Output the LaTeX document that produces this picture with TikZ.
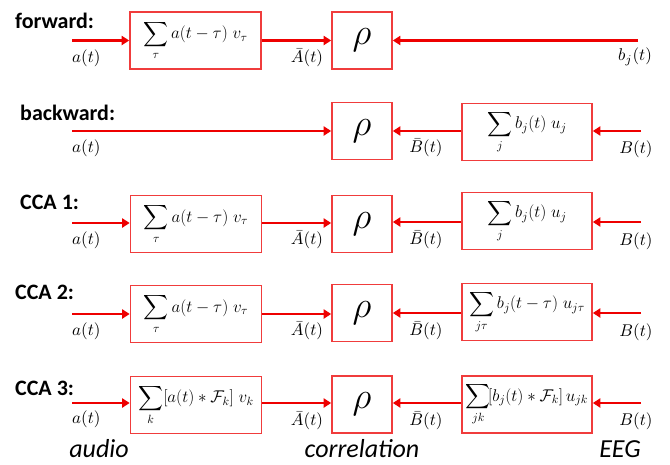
\RequirePackage{fix-cm}
\documentclass[tikz,border=0pt]{standalone}
\usepackage{exscale}
\usepackage{fontspec}
\setmainfont{Carlito}
\usetikzlibrary{arrows.meta}
\definecolor{arrred}{RGB}{238,0,0}
\definecolor{boxred}{RGB}{240,60,60}
\makeatletter
\newcommand\mfont[1]{\fontsize{#1}{#1}\selectfont\global\let\glb@currsize\relax\let\glb@currsize\relax}
\makeatother
\newcommand\lab[1]{\scalebox{1.7}{$#1$}}
\begin{document}
\begin{tikzpicture}[x=1pt,y=-1pt,
  box/.style={draw=boxred, line width=1.6pt, minimum height=57pt, inner sep=0pt,
    font=\mfont{17}},
  wide/.style={box, minimum width=131pt},
  rhobox/.style={box, minimum width=60pt, font=\mfont{37}},
  sig/.style={draw=arrred, line width=2.6pt, -{Triangle[length=7.5pt,width=9pt]}},
  rowlabel/.style={font=\fontsize{22}{26}\selectfont\bfseries, anchor=base west, inner sep=0pt},
  mlabel/.style={font=\normalsize, inner sep=0pt},
  foot/.style={font=\fontsize{26}{30}\selectfont\itshape, anchor=base, inner sep=0pt}]
\useasboundingbox (0,0) rectangle (670,464);

% ---------- row 1: forward ----------
\node[rowlabel] (l1) at (15,28) {forward:};
\node[wide] (f1) at (195.5,40.5) {$\displaystyle\sum_{\tau} a(t-\tau)\;v_{\tau}$};
\node[rhobox] (r1) at (362,40.5) {$\rho$};
\coordinate (a1) at (72,40.5);
\coordinate (b1) at (638,40.5);
\draw[sig] (a1) -- (f1.west);
\draw[sig] (f1.east) -- (r1.west);
\draw[sig] (b1) -- (r1.east);
\node[mlabel, anchor=west] (ta1) at (72,58) {\lab{a(t)}};
\node[mlabel] (tA1) at (307,58) {\lab{\bar{A}(t)}};
\node[mlabel] (tb1) at (635,57) {\lab{b_j(t)}};

% ---------- row 2: backward ----------
\node[rowlabel] (l2) at (20,120) {backward:};
\node[rhobox] (r2) at (362,131) {$\rho$};
\node[wide, minimum width=130pt] (g2) at (527,132) {$\displaystyle\sum_{j} b_j(t)\;u_j$};
\coordinate (a2) at (72,131);
\coordinate (b2) at (641,131);
\draw[sig] (a2) -- (r2.west);
\draw[sig] (g2.west |- b2) -- (r2.east);
\draw[sig] (b2) -- (g2.east |- b2);
\node[mlabel, anchor=west] (ta2) at (72,148) {\lab{a(t)}};
\node[mlabel] (tB2) at (426,148) {\lab{\bar{B}(t)}};
\node[mlabel] (tb2) at (636,149) {\lab{B(t)}};

% ---------- row 3: CCA 1 ----------
\node[rowlabel] (l3) at (20,209) {CCA 1:};
\node[wide] (f3) at (196,224) {$\displaystyle\sum_{\tau} a(t-\tau)\;v_{\tau}$};
\node[rhobox] (r3) at (362,224) {$\rho$};
\node[wide, minimum width=130pt] (g3) at (527,221) {$\displaystyle\sum_{j} b_j(t)\;u_j$};
\coordinate (a3) at (72,223);
\coordinate (b3) at (641,222);
\draw[sig] (a3) -- (f3.west |- a3);
\draw[sig] (f3.east |- a3) -- (r3.west |- a3);
\draw[sig] (g3.west |- b3) -- (r3.east |- b3);
\draw[sig] (b3) -- (g3.east |- b3);
\node[mlabel, anchor=west] (ta3) at (72,240) {\lab{a(t)}};
\node[mlabel] (tA3) at (307,240) {\lab{\bar{A}(t)}};
\node[mlabel] (tB3) at (426,240) {\lab{\bar{B}(t)}};
\node[mlabel] (tb3) at (636,241) {\lab{B(t)}};

% ---------- row 4: CCA 2 ----------
\node[rowlabel] (l4) at (15,299) {CCA 2:};
\node[wide] (f4) at (196,314) {$\displaystyle\sum_{\tau} a(t-\tau)\;v_{\tau}$};
\node[rhobox] (r4) at (362,313) {$\rho$};
\node[wide, minimum width=130pt] (g4) at (527,312) {$\displaystyle\sum_{j\tau} b_j(t-\tau)\;u_{j\tau}$};
\coordinate (a4) at (72,314);
\coordinate (b4) at (641,313);
\draw[sig] (a4) -- (f4.west |- a4);
\draw[sig] (f4.east |- a4) -- (r4.west |- a4);
\draw[sig] (g4.west |- b4) -- (r4.east |- b4);
\draw[sig] (b4) -- (g4.east |- b4);
\node[mlabel, anchor=west] (ta4) at (72,331) {\lab{a(t)}};
\node[mlabel] (tA4) at (307,331) {\lab{\bar{A}(t)}};
\node[mlabel] (tB4) at (426,331) {\lab{\bar{B}(t)}};
\node[mlabel] (tb4) at (636,332) {\lab{B(t)}};

% ---------- row 5: CCA 3 ----------
\node[rowlabel] (l5) at (15,395) {CCA 3:};
\node[wide] (f5) at (196,405) {$\displaystyle\sum_{k} [a(t)\ast\mathcal{F}_k]\;v_k$};
\node[rhobox] (r5) at (362,404.5) {$\rho$};
\node[wide, minimum width=130pt] (g5) at (527,404.5) {$\displaystyle\sum_{jk}\![b_j(t)\ast\mathcal{F}_k]\,u_{jk}$};
\coordinate (a5) at (72,403);
\coordinate (b5) at (641,403);
\draw[sig] (a5) -- (f5.west |- a5);
\draw[sig] (f5.east |- a5) -- (r5.west |- a5);
\draw[sig] (g5.west |- b5) -- (r5.east |- b5);
\draw[sig] (b5) -- (g5.east |- b5);
\node[mlabel, anchor=west] (ta5) at (72,419) {\lab{a(t)}};
\node[mlabel] (tA5) at (307,421) {\lab{\bar{A}(t)}};
\node[mlabel] (tB5) at (426,421) {\lab{\bar{B}(t)}};
\node[mlabel] (tb5) at (636,421) {\lab{B(t)}};

% ---------- footer ----------
\node[foot] (audio) at (99,457) {audio};
\node[foot] (corr) at (362,457) {correlation};
\node[foot] (eeg) at (620,457) {EEG};
\end{tikzpicture}
\end{document}
